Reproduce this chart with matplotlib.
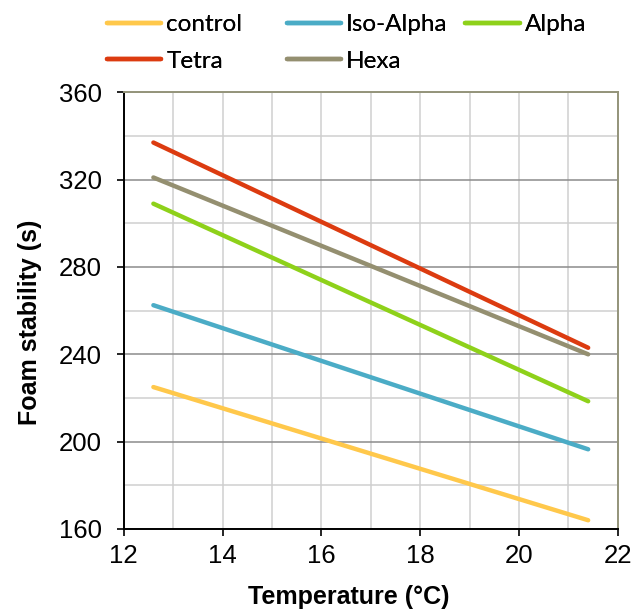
import matplotlib.pyplot as plt
from matplotlib.ticker import MultipleLocator

# temperatures at which each fitted line starts and ends
temps = [12.6, 21.4]

series_names = ['control', 'Iso-Alpha', 'Alpha', 'Tetra', 'Hexa']
control = [225.0, 164.0]
iso_alpha = [262.5, 196.5]
alpha = [309.0, 218.5]
tetra = [337.0, 243.0]
hexa = [321.0, 240.0]

colors = ['#FFC84B', '#4BACC6', '#8ED11A', '#DC3B10', '#948F70']


def main():
    plt.rcParams['font.family'] = ['Liberation Sans', 'DejaVu Sans']

    fig = plt.figure(figsize=(6.33, 6.09), dpi=100)
    ax = fig.add_axes([0.1955, 0.1314, 0.7805, 0.717])

    handles = []
    for name, vals, col in zip(series_names, [control, iso_alpha, alpha, tetra, hexa], colors):
        h, = ax.plot(temps, vals, color=col, lw=3.2, solid_capstyle='round', label=name, zorder=3)
        handles.append(h)

    ax.set_xlim(12, 22)
    ax.set_ylim(160, 360)
    ax.xaxis.set_major_locator(MultipleLocator(2))
    ax.xaxis.set_minor_locator(MultipleLocator(1))
    ax.yaxis.set_major_locator(MultipleLocator(40))
    ax.yaxis.set_minor_locator(MultipleLocator(20))

    # gridlines
    ax.grid(which='minor', axis='both', color='#CFCFCF', lw=1.1)
    ax.grid(which='major', axis='x', color='#CFCFCF', lw=1.1)
    ax.grid(which='major', axis='y', color='#8C8C8C', lw=1.1)
    ax.set_axisbelow(True)

    for side in ['left', 'bottom']:
        ax.spines[side].set_color('black')
        ax.spines[side].set_linewidth(1.4)
    for side in ['top', 'right']:
        ax.spines[side].set_color('#94947A')
        ax.spines[side].set_linewidth(1.4)

    ax.tick_params(which='major', direction='out', length=5, width=1.2, labelsize=18.5)
    ax.tick_params(which='minor', length=0)
    ax.tick_params(axis='y', pad=11)
    ax.tick_params(axis='x', pad=6)

    ax.set_xlabel('Temperature (°C)', fontsize=18, fontweight='bold')
    ax.set_ylabel('Foam stability (s)', fontsize=18, fontweight='bold')
    ax.xaxis.set_label_coords(0.455, -0.128)
    ax.yaxis.set_label_coords(-0.166, 0.474)

    # one legend per column, rows: control, Iso-Alpha, Alpha / Tetra, Hexa
    columns = [[0, 3], [1, 4], [2]]
    col_x = [106.7, 286.7, 465.0]
    leg_kw = dict(loc='upper left', frameon=False, prop={'family': 'Lato', 'size': 17.5},
                  handlelength=2.25, handletextpad=0.2, labelspacing=0.65,
                  borderaxespad=0, borderpad=0)
    for idx, x0 in zip(columns, col_x):
        leg = fig.legend([handles[i] for i in idx], [series_names[i] for i in idx],
                         bbox_to_anchor=(x0 / 633, 1 - 14 / 609), **leg_kw)
        fig.add_artist(leg)

    fig.savefig('out.png', dpi=100)


if __name__ == "__main__":
    main()
